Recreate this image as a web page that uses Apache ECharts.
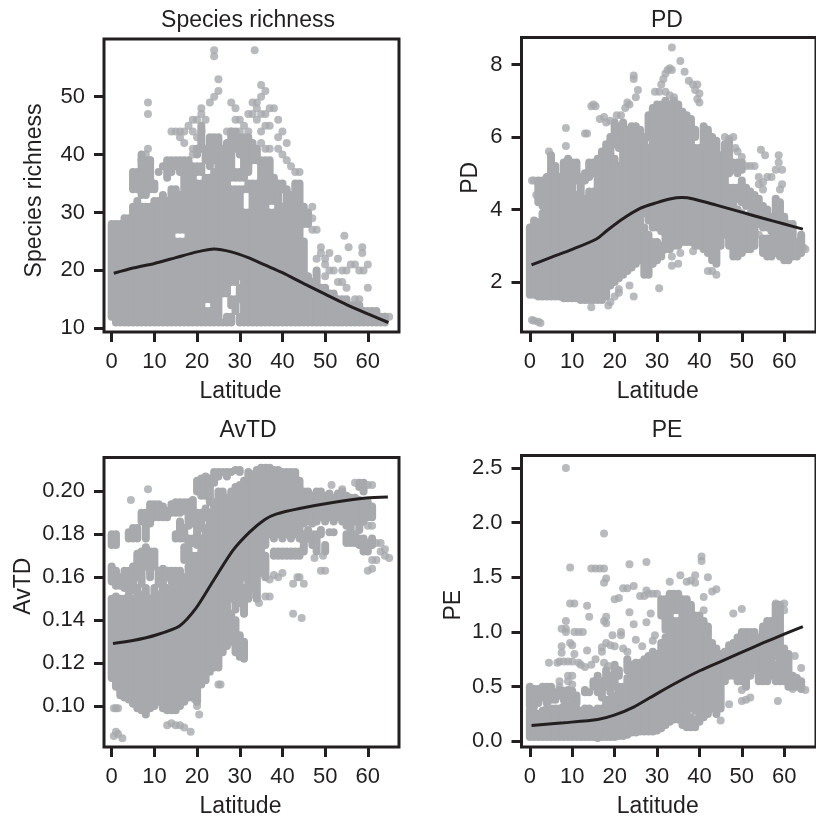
<!DOCTYPE html>
<html>
<head>
<meta charset="utf-8">
<style>
  html, body { margin: 0; padding: 0; background: #fff; overflow: hidden; }
  #chart { width: 816px; height: 819px; }
</style>
<script src="https://cdn.jsdelivr.net/npm/echarts@6/dist/echarts.min.js"></script>
</head>
<body>
<div id="chart"></div>
<script>
// dense parts of each cloud, one row per latitude: lat, then lo,hi pairs of dot centres
const richCols = [
  [0,12,28],[1,11,28],[2,11,28],[3,11,29],[4,11,29],[5,11,31,34,37],[6,11,32,34,37],[7,11,31,33,40],
  [8,11,31,33,39],[9,11,31,34,39],[10,11,32,34,35],[11,11,32,37,37],[12,11,33,38,38],[13,11,32,36,39],
  [14,11,34,37,39],[15,11,25,27,34,38,39],[16,11,25,27,33,37,39],[17,11,25,27,39],[18,11,39],[19,11,38],
  [20,11,35,37,38,40,41],[21,11,35,37,38,41,45],[22,11,13,15,36,39,41],[23,11,13,15,36,38,43],
  [24,11,37,39,43],[25,11,43],[26,11,11,16,41],[27,11,12,16,42],[28,11,12,14,15,18,34,36,44],
  [29,13,15,18,34,36,37,41,44],[30,11,12,15,17,19,34,36,37,40,43],[31,11,30,34,34,36,43],[32,11,30,34,35,37,43],
  [33,11,35,39,42],[34,11,35,39,41],[35,11,39],[36,11,39],[37,11,30,32,39],[38,11,30,32,36],[39,11,35],
  [40,11,31,34,35],[41,11,34],[42,11,33],[43,11,35],[44,11,35],[45,11,25,28,31],[46,11,19,28,30],
  [47,11,18],[48,11,20],[49,11,17],[50,11,17],[51,11,16],[52,11,16],[53,11,15],[54,11,15],[55,11,15],
  [56,11,14],[57,11,14],[58,11,14],[59,11,13],[60,11,13],[61,11,13],[62,11,13],[63,11,12],[64,11,12]
];
const richPts = [
  [8.5,49],[8.5,47],[8.5,41],[24,58],[24,57],[33.5,58],[25,53],[25,51],[35,52],[36,51],[24,50],[23,49],
  [21,48],[21,47],[20,46],[19,46],[22,46],[18,45],[19,44],[17,44],[14,44],[15,44],[16,44],[16,43],[17,42],
  [21,44],[20,43],[20,41],[19,41],[19,40],[8,40],[7,39],[9,39],[28,49],[29,48],[30,46],[29,46],[30,44],
  [28,44],[27,44],[31,45],[32,44],[32,47],[33,47],[33,49],[34,49],[34,48],[34,46],[35,50],[35,47],[36,47],
  [36,45],[37,45],[37,48],[38,48],[39,46],[39,43],[40,44],[39,41],[40,40],[41,42],[41,39],[42,38],[43,37],
  [44,37],[35,44],[35,42],[36,41],[37,41],[47,31],[47,29],[47,27],[48,27],[49,24],[49,23],[50,22],[48,22],
  [50,21],[51,23],[53,22],[54.5,26],[55.5,24],[58.7,24],[58.7,23],[56,21],[57,21],[58,20],[60,21],[59,20],
  [60,17],[54,20],[55,20],[52,20],[51,20],[50,19],[53,18],[54,18],[55,17],[57,15],[58,15],[64,12],[65,12]
];
const richCurve = [
  [0.5,19.5],[5,20.4],[10,21.2],[15,22.2],[20,23.2],[24,23.7],[28,23.2],[32,22.2],[36,20.9],[40,19.6],
  [45,17.7],[50,15.9],[55,14.1],[60,12.5],[64.8,11]
];

const pdCols = [
  [0,1.65,3.5],[1,1.65,3.7],[2,1.6,3.65,4.2,4.8],[3,1.6,3.9,4.1,4.8],[4,1.6,4.9],[5,1.6,5.5],[6,1.6,5.2],
  [7,1.6,4.9],[8,1.55,5.3],[9,1.55,5.4],[10,1.55,5.3],[11,1.55,4.4,4.8,5.3],[12,1.5,4.9],[13,1.5,4.3,4.8,5],
  [14,1.5,4.5,4.9,5.3],[15,1.5,4.5,5,5.3],[16,1.5,5.4],[17,1.5,5.6],[18,1.6,5.8],[19,1.9,6],[20,2,5.4,5.8,6.4],
  [21,2.1,5.2,5.7,6.3],[22,2.2,6.4],[23,2.3,6.2],[24,2.4,6.3],[25,2.5,6.3],[26,2.6,6.2],[27,2.2,3.5,3.9,6],
  [28,2.2,3.3,3.7,5.7,6,6.6],[29,2.5,3.1,3.5,6.8],[30,2.6,3.1,3.5,6.9],[31,2.7,3,3.4,6.9],[32,2.9,7],[33,2.9,6.9],
  [34,3,7],[35,3,6.9],[36,3.1,6.7],[37,3.1,6.6],[38,3.1,6.5],[39,3,5.7,6,6.2],[40,3,5.7],[41,2.9,6.3],[42,2.8,6.2],
  [43,2.6,6],[44,2.5,5.9],[45,3,5.5],[46,3.3,5.8],[47,3,4.6,5,5.9],[48,2.7,4.6,5.1,5.3],[49,2.7,4,4.3,4.6,5,5.3],
  [50,2.8,3.9,4.2,4.8,5.1,5.3],[51,2.9,3.8,4.1,4.6],[52,2.9,3.9,4.1,4.5],[53,3,4.4],[54,3.6,4.3],
  [55,2.8,3.2,3.5,4.1],[56,2.7,3.2,3.5,4],[57,2.7,3.2,3.4,3.8],[58,2.8,4.3],[59,2.7,4.2],[60,2.6,3.8],
  [61,2.6,3.6],[62,2.7,3.6],[63,2.7,3.1],[64,2.8,3.3]
];
const pdPts = [
  [0.5,0.95],[1,0.93],[2,0.9],[2.5,0.87],[14.5,1.3],[18.5,1.35],[19,1.45],[20,1.6],[21,1.7],[21,1.8],[23.5,1.9],
  [24.5,1.6],[30.5,1.83],[35,2.5],[33.5,2.45],[33.5,2.7],[35.5,2.8],[38.5,2.85],[44,2.2],[43,2.3],[42,2.3],
  [33.5,8.47],[35.5,8.1],[36.5,7.8],[33,7.9],[33.5,7.85],[32.5,7.85],[32,7.75],[31.5,7.6],[31,7.45],[30.5,7.25],
  [29.5,7.25],[32,7.25],[33,7.15],[34,7.1],[37.5,7.55],[38.5,7.45],[39.5,7.45],[39,7.3],[40,7.2],[39.5,7.05],[40,6.95],
  [24.5,7.7],[24.5,7.6],[25.5,7.3],[25,7.1],[23,6.95],[22.5,6.8],[23.5,6.9],[14.5,6.85],[15.5,6.85],[15,6.9],
  [13,6.1],[13.5,6.1],[8.5,6.25],[8.5,5.75],[4.5,5.6],[16.5,6.5],[17.5,6.55],[18,6.4],[19,6.45],[20.5,6.6],[21.5,6.6],
  [54.5,5.65],[55.5,5.5],[58.7,5.5],[58.7,5.3],[59.5,5.1],[58,5.1],[57,4.9],[56,4.9],[55,4.75],[54,4.9],[54,4.7],
  [55,4.55],[59.5,4.7],[59,4.55],[0.5,4.8],[1,4.8],[1.5,4.4],[2.5,4.2],[46,6],[47,5.95],[48,6],[48.5,5.7],[49,5.6],
  [50,5.45],[51,5.2],[52,5.2],[53,5.2],[54,3.3],[65,2.9],[64.5,2.95]
];
const pdCurve = [
  [0.4,2.47],[5,2.68],[10,2.9],[15.6,3.18],[18,3.4],[21.5,3.71],[26,4.03],[30,4.19],[33,4.29],[35.9,4.33],
  [38.6,4.29],[44,4.12],[49.5,3.94],[55,3.76],[60,3.6],[64.4,3.46]
];

const avtdCols = [
  [0,0.113,0.15,0.158,0.165,0.175,0.18],[1,0.109,0.151,0.156,0.163,0.175,0.18],[2,0.105,0.15,0.156,0.16],
  [3,0.104,0.15,0.155,0.163],[4,0.103,0.152,0.155,0.163,0.178,0.181],[5,0.101,0.15,0.154,0.165,0.178,0.183],
  [6,0.099,0.155,0.16,0.171,0.178,0.183],[7,0.098,0.152,0.157,0.172,0.186,0.19],[8,0.096,0.155,0.165,0.174,0.178,0.19],
  [9,0.099,0.15,0.16,0.172,0.185,0.194],[10,0.1,0.155,0.165,0.172,0.188,0.194],[11,0.102,0.152,0.157,0.163,0.188,0.194],
  [12,0.099,0.158,0.16,0.164,0.188,0.193],[13,0.098,0.155,0.16,0.163,0.188,0.191],[14,0.098,0.155,0.158,0.163,0.19,0.194],
  [15,0.098,0.152,0.155,0.163,0.178,0.18,0.19,0.195],[16,0.1,0.155,0.158,0.163,0.178,0.186,0.19,0.195],
  [17,0.102,0.16,0.168,0.174,0.178,0.183,0.191,0.195],[18,0.104,0.165,0.168,0.178,0.184,0.195],
  [19,0.104,0.17,0.176,0.178,0.185,0.196],[20,0.102,0.17,0.175,0.19,0.2,0.205],[21,0.11,0.178,0.183,0.19,0.198,0.206],
  [22,0.112,0.183,0.188,0.192,0.198,0.207],[23,0.116,0.19,0.195,0.206],[24,0.118,0.195,0.204,0.209],[25,0.118,0.2,0.207,0.209],
  [26,0.125,0.2,0.209,0.209],[27,0.128,0.197,0.207,0.209],[28,0.13,0.143,0.15,0.2,0.209,0.209],[29,0.125,0.14,0.145,0.202,0.21,0.21],
  [30,0.123,0.133,0.148,0.203,0.209,0.21],[31,0.122,0.13,0.143,0.155,0.16,0.205],[32,0.15,0.209],[33,0.155,0.208],
  [34,0.15,0.21],[35,0.162,0.211],[36,0.16,0.17,0.175,0.211],[37,0.18,0.211],[38,0.17,0.172,0.178,0.21],[39,0.17,0.172,0.18,0.21],
  [40,0.17,0.172,0.178,0.209],[41,0.17,0.172,0.18,0.209],[42,0.17,0.172,0.178,0.209],[43,0.17,0.172,0.18,0.209],
  [44,0.17,0.172,0.178,0.205],[45,0.172,0.18,0.185,0.2],[46,0.178,0.182,0.186,0.2],[47,0.175,0.18,0.185,0.198],
  [48,0.172,0.18,0.186,0.2],[49,0.18,0.182,0.188,0.2],[50,0.172,0.175,0.186,0.198],[51,0.181,0.181,0.188,0.199],
  [52,0.181,0.181,0.186,0.197],[53,0.188,0.199],[54,0.186,0.2],[55,0.176,0.18,0.184,0.198],[56,0.176,0.18,0.182,0.197],
  [57,0.176,0.18,0.186,0.197],[58,0.175,0.178,0.182,0.196,0.202,0.204],[59,0.172,0.178,0.186,0.195,0.2,0.204],
  [60,0.172,0.176,0.188,0.195],[61,0.175,0.178,0.188,0.193]
];
const avtdPts = [
  [0.5,0.086],[1,0.088],[1.5,0.087],[2.5,0.085],[13,0.091],[14,0.092],[15,0.091],[16,0.091],[17,0.09],[18.5,0.088],
  [20.5,0.096],[19.5,0.103],[20,0.1],[19,0.105],[25,0.11],[25.5,0.11],[1,0.099],[1.5,0.099],[0.5,0.099],[8.5,0.201],
  [4.5,0.196],[42.5,0.143],[44.5,0.141],[42.5,0.157],[43.5,0.16],[44,0.16],[45,0.157],[51.5,0.203],[54,0.201],
  [57,0.204],[60,0.203],[61,0.203],[37,0.151],[36,0.151],[33,0.152],[34,0.15],[34.5,0.148],[32,0.153],[47.5,0.169],
  [49,0.163],[50,0.163],[49.5,0.17],[60,0.163],[61,0.164],[62,0.168],[64,0.17],[65,0.169],[63,0.176],[61,0.168],
  [60,0.184],[61,0.184],[39,0.16],[40,0.162],[38,0.161],[37,0.159],[62,0.176],[63,0.172],[64,0.173]
];
const avtdCurve = [
  [0.3,0.1291],[5,0.1305],[10.4,0.1331],[15.9,0.1373],[19.8,0.1457],[23.7,0.158],[28.4,0.1725],[32.3,0.181],
  [35.8,0.1868],[38.5,0.1894],[44,0.192],[51.8,0.1948],[59.6,0.1969],[64.7,0.1974]
];

const peCols = [
  [0,0.04,0.28,0.32,0.5],[1,0.04,0.27,0.32,0.48],[2,0.04,0.25,0.35,0.48],[3,0.04,0.28,0.4,0.5],[4,0.04,0.3,0.35,0.5],
  [5,0.04,0.3,0.38,0.5],[6,0.04,0.3,0.38,0.45],[7,0.04,0.3,0.42,0.47],[8,0.04,0.32,0.38,0.46],[9,0.04,0.33,0.4,0.47],
  [10,0.04,0.32,0.38,0.46],[11,0.04,0.3,0.35,0.42],[12,0.04,0.28],[13,0.04,0.3,0.45,0.47],[14,0.04,0.3,0.45,0.45],
  [15,0.04,0.28,0.5,0.55],[16,0.03,0.3,0.45,0.6],[17,0.04,0.3,0.4,0.55],[18,0.04,0.38,0.5,0.65],[19,0.04,0.38,0.45,0.6],
  [20,0.04,0.42,0.5,0.7],[21,0.05,0.5,0.6,0.65],[22,0.05,0.5],[23,0.06,0.58,0.65,0.75],[24,0.08,0.7],[25,0.08,0.72],
  [26,0.09,0.72],[27,0.09,0.75],[28,0.09,0.78],[29,0.09,0.82],[30,0.1,0.8],[31,0.12,0.9,1.15,1.3],[32,0.15,0.95,1.02,1.3],
  [33,0.18,1.35],[34,0.2,1.1,1.2,1.35],[35,0.2,1.1,1.2,1.35],[36,0.15,1,1.06,1.3],[37,0.13,0.26,0.32,1.3],[38,0.13,0.22,0.3,1.25],
  [39,0.13,0.2,0.28,1.15],[40,0.18,1.15],[41,0.22,1.1],[42,0.25,1.05],[43,0.3,0.9],[44,0.25,0.85],[45,0.3,0.8],[46,0.55,0.82],
  [47,0.6,0.88],[48,0.6,0.9],[49,0.55,0.95],[50,0.55,1],[51,0.5,0.62,0.68,1],[52,0.6,1],[53,0.65,1],[54,0.55,0.95],
  [55,0.55,0.7,0.76,1.05],[56,0.55,0.7,0.76,1.1],[57,0.6,1.1],[58,0.55,0.7,0.78,1.25],[59,0.55,1.25],[60,0.55,0.85],
  [61,0.5,0.8],[62,0.5,0.6],[63,0.5,0.58],[64,0.48,0.55]
];
const pePts = [
  [8.5,2.5],[17.5,1.9],[9.5,1.59],[14.5,1.58],[15.5,1.58],[16.5,1.58],[17.5,1.58],[18,1.49],[17.5,1.45],[23.5,1.62],
  [27.5,1.64],[40.5,1.69],[40.5,1.65],[35.5,1.52],[39,1.52],[42,1.5],[33,1.46],[37,1.46],[38,1.47],[39,1.45],[24.5,1.42],
  [22,1.4],[23,1.4],[27.5,1.38],[28,1.35],[29,1.35],[30,1.35],[26,1.33],[27,1.33],[43,1.37],[44,1.39],[20,1.3],[21,1.31],
  [9.5,1.26],[10.5,1.26],[13.5,1.24],[23.5,1.18],[28.5,1.17],[14,1.14],[8.5,1.1],[18,1.14],[18,1.08],[17.5,1.1],[24.5,1.07],
  [27.5,1.09],[7.5,1.03],[8.5,1.03],[8.5,1],[10.5,1],[11.5,1],[12.5,1],[21.5,1],[21.5,0.97],[19.5,0.97],[29.5,0.97],[29,0.92],
  [25,0.93],[9.5,0.9],[10,0.88],[7.5,0.87],[7.5,0.81],[10.5,0.8],[17,0.86],[18,0.9],[19,0.88],[20,0.87],[17,0.82],[22,0.85],
  [13.5,0.83],[23,0.82],[26.5,0.87],[4.5,0.72],[6.5,0.72],[7,0.73],[8,0.73],[9,0.73],[10,0.73],[11.5,0.72],[12,0.7],[13,0.68],
  [14.5,0.7],[15.5,0.75],[18.5,0.69],[17.5,0.72],[7,0.55],[7,0.5],[9,0.6],[10,0.6],[9,0.55],[10,0.52],[48,1.17],[50,1.21],
  [58.5,0.37],[47,0.34],[45,0.19],[50,0.37],[51,0.38],[52,0.4],[50,0.47],[62,0.48],[65,0.47],[64,0.5],[64,0.67],[62.5,0.78],
  [41,1.32],[41,1.2],[58,1.26],[60,1.26],[60,1.2]
];
const peCurve = [
  [0.4,0.145],[8,0.17],[16,0.2],[19.9,0.24],[24.6,0.316],[30,0.437],[35,0.545],[40.2,0.648],[45,0.73],[49.5,0.807],
  [55,0.9],[60,0.98],[64.4,1.05]
];

const dotSize = 8;
const dotColor = '#a7a9ac';
const inkColor = '#231f20';
const fontName = '"Liberation Sans", Arial, sans-serif';

const panels = [
  {title: 'Species richness', titleX: 248, titleY: 8, cols: richCols, pts: richPts, curve: richCurve,
    rect: [104, 39, 295, 293], xRange: [-1.8, 67.3], yRange: [9.36, 59.96], ticks: [10, 50, 10], digits: 0,
    nameGap: 58, namePad: [0, 10, 0, 0]},
  {title: 'PD', titleX: 667, titleY: 8, cols: pdCols, pts: pdPts, curve: pdCurve,
    rect: [521.5, 37.5, 297, 294.5], xRange: [-1.97, 67.5], yRange: [0.62, 8.746], ticks: [2, 8, 2], digits: 0,
    nameGap: 39, namePad: [0, 0, 0, 14]},
  {title: 'AvTD', titleX: 248, titleY: 418, cols: avtdCols, pts: avtdPts, curve: avtdCurve,
    rect: [104, 457.5, 295, 293], xRange: [-1.8, 67.3], yRange: [0.0809, 0.2158], ticks: [0.1, 0.2, 0.02], digits: 2,
    nameGap: 69, namePad: [0, 0, 0, 32]},
  {title: 'PE', titleX: 667, titleY: 418, cols: peCols, pts: pePts, curve: peCurve,
    rect: [521.5, 455.5, 297, 295], xRange: [-1.97, 67.5], yRange: [-0.0515, 2.614], ticks: [0, 2.5, 0.5], digits: 1,
    nameGap: 56, namePad: [0, 8, 0, 0]}
];

// draws the dense part: rounded column from lo to hi with the dot radius around it
function renderColumn(params, api) {
  const top = api.coord([api.value(0), api.value(2)]);
  const bottom = api.coord([api.value(0), api.value(1)]);
  return {
    type: 'rect',
    shape: {
      x: top[0] - dotSize / 2,
      y: top[1] - dotSize / 2,
      width: dotSize,
      height: bottom[1] - top[1] + dotSize,
      r: dotSize / 2
    },
    style: {fill: dotColor}
  };
}

function columnRows(cols) {
  const rows = [];
  cols.forEach(col => {
    for (let i = 1; i < col.length; i += 2) {
      rows.push([col[0], col[i], col[i + 1]]);
    }
  });
  return rows;
}

const myChart = echarts.init(document.getElementById('chart'), null, {renderer: 'canvas'});

const option = {
  animation: false,
  backgroundColor: '#fff',
  textStyle: {fontFamily: fontName, color: inkColor},
  title: panels.map(p => ({
    text: p.title,
    left: p.titleX,
    top: p.titleY + 1,
    textAlign: 'center',
    padding: 0,
    textStyle: {fontSize: 23, fontWeight: 'normal', color: inkColor, fontFamily: fontName}
  })),
  grid: panels.map(p => ({
    left: p.rect[0],
    top: p.rect[1],
    width: p.rect[2],
    height: p.rect[3],
    show: true,
    borderColor: inkColor,
    borderWidth: 3,
    backgroundColor: 'transparent'
  })),
  xAxis: panels.map((p, i) => ({
    type: 'value',
    gridIndex: i,
    min: p.xRange[0],
    max: p.xRange[1],
    name: 'Latitude',
    nameLocation: 'middle',
    nameGap: 48,
    nameTextStyle: {fontSize: 23, color: inkColor, fontFamily: fontName, padding: [0, 22, 0, 0]},
    splitLine: {show: false},
    axisLine: {show: false, onZero: false},
    axisTick: {show: true, length: 10, lineStyle: {color: inkColor, width: 3}, customValues: [0, 10, 20, 30, 40, 50, 60]},
    axisLabel: {fontSize: 22, color: inkColor, margin: 19, fontFamily: fontName, customValues: [0, 10, 20, 30, 40, 50, 60]}
  })),
  yAxis: panels.map((p, i) => {
    const tickValues = [];
    for (let v = p.ticks[0]; v <= p.ticks[1] + 1e-9; v += p.ticks[2]) {
      tickValues.push(+v.toFixed(p.digits));
    }
    return {
      type: 'value',
      gridIndex: i,
      min: p.yRange[0],
      max: p.yRange[1],
      name: p.title,
      nameLocation: 'middle',
      nameGap: p.nameGap,
      nameRotate: 90,
      nameTextStyle: {fontSize: 23, color: inkColor, fontFamily: fontName, padding: p.namePad},
      splitLine: {show: false},
      axisLine: {show: false, onZero: false},
      axisTick: {show: true, length: 10, lineStyle: {color: inkColor, width: 3}, customValues: tickValues},
      axisLabel: {
        fontSize: 22,
        color: inkColor,
        margin: 19,
        fontFamily: fontName,
        customValues: tickValues,
        formatter: v => v.toFixed(p.digits)
      }
    };
  }),
  series: panels.flatMap((p, i) => [
    {
      type: 'custom',
      xAxisIndex: i,
      yAxisIndex: i,
      renderItem: renderColumn,
      encode: {x: 0, y: [1, 2]},
      data: columnRows(p.cols),
      silent: true,
      z: 2
    },
    {
      type: 'scatter',
      xAxisIndex: i,
      yAxisIndex: i,
      symbolSize: dotSize,
      itemStyle: {color: dotColor},
      data: p.pts,
      silent: true,
      z: 2
    },
    {
      type: 'line',
      xAxisIndex: i,
      yAxisIndex: i,
      data: p.curve,
      showSymbol: false,
      smooth: 0.25,
      lineStyle: {color: inkColor, width: 3},
      silent: true,
      z: 3
    }
  ])
};

myChart.setOption(option);
</script>
</body>
</html>
